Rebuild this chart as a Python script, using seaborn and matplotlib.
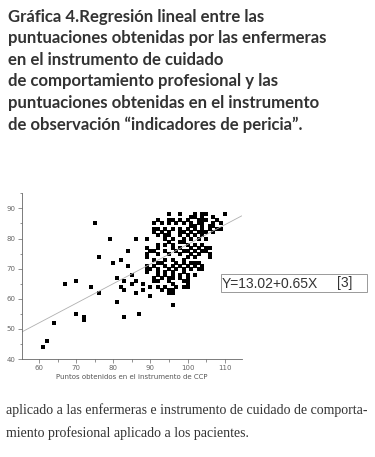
import matplotlib
matplotlib.use("Agg")
import matplotlib.pyplot as plt
from matplotlib.ticker import MultipleLocator
from matplotlib.patches import Rectangle
import seaborn as sns
import pandas as pd

# puntos dispersos (CCP en x, indicadores de pericia en y)
x_outer = [61, 62, 64, 67, 70, 70, 72, 72, 74, 75, 76, 76, 79, 80, 81, 81, 82, 82,
           83, 83, 83, 84, 84, 85, 85, 86, 86, 86, 87, 88, 88, 89, 89, 89, 90, 90, 90]
y_outer = [44, 46, 52, 65, 66, 55, 54, 53, 64, 85, 74, 62, 80, 72, 67, 59, 73, 64,
           66, 63, 54, 76, 71, 68, 65, 80, 66, 62, 55, 65, 63, 74, 70, 69, 76, 64, 61]

# nube central, por filas (valor y, lista de valores x)
rows_left = {
    88: [95, 98],
    86: [92, 95, 96, 98],
    85: [91, 93, 95, 97, 99],
    83: [91, 92, 94, 96, 98],
    82: [91, 93, 95, 98, 99],
    81: [92, 94, 95, 98],
    80: [89, 94, 96, 99],
    79: [95, 98, 99],
    78: [92, 94, 96],
    77: [89, 92, 96, 98],
    76: [91, 94, 97, 99],
    75: [89, 92, 95, 98],
    73: [91, 94, 96, 99],
    72: [92, 93, 97, 99],
    71: [89, 91, 94, 96, 98],
    70: [90, 92, 95, 97, 99],
    69: [92, 94, 96, 99],
    68: [92, 94, 96, 98],
    67: [91, 93, 95, 96, 98],
    66: [91, 92, 95, 99],
    65: [96, 100],
    64: [92, 94, 97, 99, 100],
    63: [93, 95, 96],
    62: [95, 96],
    58: [96],
}
rows_right = {
    88: [102, 104, 105, 110],
    87: [101, 102, 104, 107],
    86: [100, 103, 104, 105, 108],
    85: [101, 103, 104, 107, 109],
    84: [101, 102, 104, 106, 107],
    83: [100, 102, 104, 106, 108, 109],
    82: [101, 103, 104, 105, 107],
    81: [100, 102, 104],
    80: [101, 103, 105],
    78: [100, 102, 104],
    77: [101, 103, 105, 106],
    76: [100, 102, 104, 105],
    75: [101, 103, 106],
    74: [100, 102, 106],
    72: [101, 102, 103],
    71: [100, 102, 104],
    70: [101, 103, 104],
    68: [100, 102],
    67: [100],
    66: [100],
}

intercept = 13.02
slope = 0.65

title = ("Gráfica 4.Regresión lineal entre las\n"
         "puntuaciones obtenidas por las enfermeras\n"
         "en el instrumento de cuidado\n"
         "de comportamiento profesional y las\n"
         "puntuaciones obtenidas en el instrumento\n"
         "de observación “indicadores de pericia”.")
footer = ("aplicado a las enfermeras e instrumento de cuidado de comporta-\n"
          "miento profesional aplicado a los pacientes.")

xs, ys = list(x_outer), list(y_outer)
for rows in (rows_left, rows_right):
    for yv, xl in rows.items():
        xs += xl
        ys += [yv] * len(xl)
df = pd.DataFrame({"ccp": xs, "pericia": ys})

sns.set_style("white")
W, H = 375, 457
fig = plt.figure(figsize=(3.75, 4.57), dpi=100, facecolor="white")
ax = fig.add_axes([0.058, 0.2144, 0.5865, 0.3626])

xlim = (55.3, 114.6)
sns.lineplot(x=list(xlim), y=[intercept + slope * v for v in xlim], ax=ax,
             color="#b0b0b0", linewidth=0.6)
sns.scatterplot(data=df, x="ccp", y="pericia", ax=ax, marker="s", s=7,
                color="black", linewidth=0)

ax.set_xlim(*xlim)
ax.set_ylim(40, 95)
ax.xaxis.set_major_locator(MultipleLocator(10))
ax.xaxis.set_minor_locator(MultipleLocator(5))
ax.yaxis.set_major_locator(MultipleLocator(10))
ax.yaxis.set_minor_locator(MultipleLocator(5))
ax.tick_params(which="both", direction="out", colors="#666666", width=0.5,
               labelsize=5, pad=1.5, bottom=True, left=True)
ax.tick_params(which="major", length=3)
ax.tick_params(which="minor", length=1.8)
for s in ("top", "right"):
    ax.spines[s].set_visible(False)
for s in ("left", "bottom"):
    ax.spines[s].set_color("#666666")
    ax.spines[s].set_linewidth(0.6)
ax.set_xlabel("Puntos obtenidos en el instrumento de CCP", fontsize=5,
              color="#555555", labelpad=2)
ax.set_ylabel("")

# recuadro de la ecuación
fig.patches.append(Rectangle((220.7 / W, 1 - 292.3 / H), 146 / W, 18.3 / H,
                             transform=fig.transFigure, fc="white",
                             ec="#999999", lw=0.7))
eq_font = ["Liberation Sans", "DejaVu Sans"]
fig.text(222 / W, 1 - 283.5 / H, "Y=13.02+0.65X", fontsize=10, family=eq_font,
         color="#333333", va="center", ha="left")
fig.text(337 / W, 1 - 283.5 / H, "[3]", fontsize=10, family=eq_font,
         color="#333333", va="center", ha="left")

fig.text(8 / W, 1 - 9 / H, title, fontsize=12.1, fontweight="bold",
         family=["Lato", "DejaVu Sans"], color="#333333", va="top", ha="left",
         linespacing=1.42)
fig.text(6 / W, 1 - 403 / H, footer, fontsize=10,
         family=["Liberation Serif", "DejaVu Serif"], color="#333333",
         va="top", ha="left", linespacing=1.9)

fig.savefig("out.png", dpi=100, facecolor="white")
